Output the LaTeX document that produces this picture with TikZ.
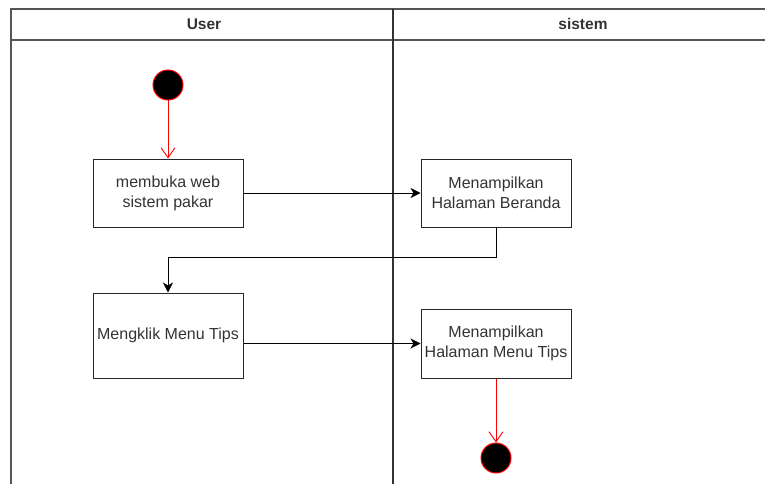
\documentclass[tikz,border=0pt]{standalone}
\usepackage{fontspec}
\setmainfont{Liberation Sans}
\usetikzlibrary{arrows.meta}
\definecolor{txt}{HTML}{333333}
\definecolor{lane}{HTML}{555555}
\begin{document}
\begin{tikzpicture}[x=1pt,y=-1pt,
  act/.style={draw=black!85, line width=1pt, fill=white, minimum width=150pt,
    align=center, inner sep=0pt, text=txt, font=\fontsize{16}{20}\selectfont},
  startnode/.style={circle, draw=red, fill=black, line width=1pt, minimum size=30pt, inner sep=0pt},
  flowred/.style={draw=red, line width=0.9pt, -{Straight Barb[length=10pt,width=14pt]}},
  flowblk/.style={draw=black, line width=1pt, -{Stealth[length=10pt,width=10pt,inset=3pt]}},
  lanehead/.style={text=txt, font=\bfseries\fontsize{15.5}{18}\selectfont}]
\useasboundingbox (0,0) rectangle (765,484);

% swimlane frame
\draw[lane, line width=1.2pt] (765,9) -- (11,9) -- (11,484);
\draw[lane, line width=1.2pt] (11,40) -- (765,40);
\draw[black!80, line width=1.6pt] (393,9) -- (393,484);
\node[lanehead] (hUser) at (204,24) {User};
\node[lanehead] (hSistem) at (583,24) {sistem};

% activities
\node[startnode] (start) at (168,85) {};
\node[act, minimum height=68pt] (open) at (168,193) {membuka web\\sistem pakar};
\node[act, minimum height=68pt] (home) at (496,193) {Menampilkan\\Halaman Beranda};
\node[act, minimum height=85pt] (click) at (168,335.5) {Mengklik Menu Tips};
\node[act, minimum height=69pt] (tips) at (496,343.5) {Menampilkan\\Halaman Menu Tips};
\node[startnode] (stop) at (496,458) {};

% flows
\draw[flowred] (start) -- (open);
\draw[flowblk] (open) -- (home);
\draw[flowblk] (home.south) |- (168,257) -- (click.north);
\draw[flowblk] (click.east |- tips.west) -- (tips.west);
\draw[flowred] (tips) -- (stop);
\end{tikzpicture}
\end{document}
